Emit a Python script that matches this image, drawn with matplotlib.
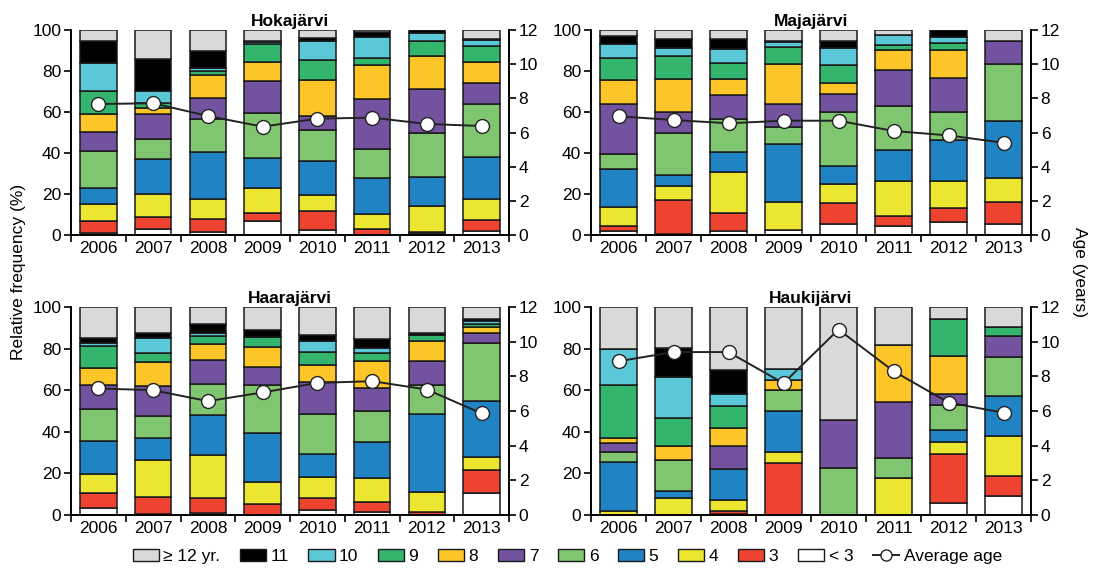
import numpy as np
import matplotlib
matplotlib.use("Agg")
import matplotlib.pyplot as plt
from matplotlib.patches import Patch
from matplotlib.lines import Line2D

plt.rcParams['font.family'] = ['Liberation Sans', 'DejaVu Sans']

years = ["2006", "2007", "2008", "2009", "2010", "2011", "2012", "2013"]
age_classes = ["< 3", "3", "4", "5", "6", "7", "8", "9", "10", "11", "\u2265 12 yr."]
class_colors = ["#ffffff", "#ee4330", "#ece630", "#1f83c4", "#80c671", "#7352a0",
                "#fdc628", "#33b56e", "#5bc8d8", "#000000", "#d8d9d9"]

# shares (%) per year, classes in order <3, 3, 4, ..., 11, >=12
hoka_shares = [
    [0.8, 6.0, 8.5, 7.5, 18.0, 9.6, 8.5, 11.3, 13.5, 11.1, 5.2],
    [2.9, 5.7, 11.4, 17.2, 9.5, 12.3, 2.8, 2.4, 6.0, 15.5, 14.3],
    [1.3, 6.5, 9.6, 23.1, 16.2, 10.0, 11.2, 2.3, 1.4, 8.3, 10.1],
    [6.8, 3.8, 12.2, 14.9, 21.6, 15.8, 9.3, 8.8, 0.8, 0.6, 5.4],
    [2.4, 9.5, 7.6, 16.6, 15.1, 6.8, 17.6, 9.8, 9.2, 1.3, 4.1],
    [0.0, 3.1, 7.3, 17.4, 14.3, 24.1, 16.6, 3.4, 10.5, 2.2, 1.1],
    [1.0, 0.5, 12.6, 14.2, 21.3, 21.8, 15.9, 7.2, 3.9, 1.6, 0.0],
    [2.1, 5.1, 10.4, 20.6, 25.9, 10.2, 10.3, 7.8, 2.7, 0.4, 4.5],
]
hoka_age = [7.67, 7.71, 6.97, 6.34, 6.81, 6.87, 6.50, 6.38]

maja_shares = [
    [2.0, 2.6, 9.1, 18.3, 7.3, 24.8, 11.5, 10.9, 6.7, 3.9, 2.9],
    [0.7, 16.4, 6.8, 5.4, 20.3, 10.2, 16.5, 11.2, 3.6, 4.7, 4.2],
    [2.0, 8.6, 20.3, 9.6, 16.1, 11.5, 7.8, 8.2, 6.5, 5.2, 4.2],
    [2.4, 0.0, 13.9, 28.1, 8.4, 11.1, 19.5, 8.1, 2.8, 0.5, 5.2],
    [5.4, 10.0, 9.5, 8.6, 26.3, 8.8, 5.7, 8.6, 8.5, 3.4, 5.2],
    [4.6, 4.8, 17.1, 14.8, 21.8, 17.6, 9.5, 2.5, 5.0, 0.0, 2.3],
    [6.5, 6.5, 13.3, 20.0, 13.5, 16.9, 13.5, 3.3, 3.2, 3.3, 0.0],
    [5.4, 10.9, 11.3, 28.0, 27.8, 11.2, 0.0, 0.0, 0.0, 0.0, 5.4],
]
maja_age = [6.95, 6.73, 6.54, 6.69, 6.69, 6.09, 5.83, 5.40]

haara_shares = [
    [3.2, 7.2, 9.3, 16.0, 15.5, 11.2, 8.3, 10.4, 1.6, 2.4, 14.9],
    [0.5, 8.3, 17.6, 10.7, 10.4, 14.6, 11.5, 4.3, 7.2, 2.6, 12.3],
    [1.1, 6.9, 20.8, 19.5, 14.9, 11.2, 7.7, 3.8, 1.6, 4.5, 8.0],
    [0.0, 5.1, 10.6, 23.5, 23.5, 8.5, 9.6, 4.8, 0.0, 3.2, 11.2],
    [2.4, 5.6, 10.1, 11.2, 19.2, 15.5, 8.0, 6.2, 5.5, 2.7, 13.6],
    [1.3, 5.1, 11.2, 17.6, 14.7, 11.2, 12.8, 4.0, 2.4, 4.5, 15.2],
    [0.0, 1.6, 9.6, 37.3, 14.2, 11.5, 9.3, 2.9, 0.0, 1.3, 12.3],
    [10.7, 10.9, 6.2, 26.9, 28.0, 4.8, 2.9, 1.4, 1.6, 0.7, 5.9],
]
haara_age = [7.30, 7.20, 6.57, 7.07, 7.62, 7.72, 7.24, 5.86]

hauki_shares = [
    [0.0, 0.0, 2.1, 23.2, 5.1, 4.3, 2.4, 25.3, 17.6, 0.0, 20.0],
    [0.0, 0.0, 8.0, 3.5, 14.9, 0.0, 6.7, 13.3, 20.0, 13.9, 19.7],
    [0.5, 1.4, 5.3, 14.9, 0.0, 11.0, 8.5, 10.9, 5.6, 11.5, 30.4],
    [0.0, 24.8, 5.3, 19.8, 10.1, 0.0, 4.8, 0.0, 5.3, 0.0, 29.9],
    [0.0, 0.0, 0.0, 0.0, 22.7, 23.2, 0.0, 0.0, 0.0, 0.0, 54.1],
    [0.0, 0.0, 17.9, 0.0, 9.3, 27.2, 27.2, 0.0, 0.0, 0.0, 18.4],
    [5.6, 23.7, 5.9, 5.8, 11.8, 5.6, 17.9, 17.8, 0.0, 0.0, 5.9],
    [9.3, 9.5, 19.2, 19.3, 18.9, 9.7, 0.0, 4.6, 0.0, 0.0, 9.5],
]
hauki_age = [8.87, 9.40, 9.40, 7.60, 10.70, 8.30, 6.49, 5.90]

lakes = ["Hokajärvi", "Majajärvi", "Haarajärvi", "Haukijärvi"]
all_shares = [hoka_shares, maja_shares, haara_shares, hauki_shares]
all_ages = [hoka_age, maja_age, haara_age, hauki_age]

edge = "#1a1a1a"
W, H = 1095, 574
fig = plt.figure(figsize=(W / 100, H / 100), dpi=100)

# axes boxes in pixels: left, top, width, height
boxes = [(71, 30, 438, 205), (591, 30, 440, 205),
         (71, 307, 438, 208), (591, 307, 440, 208)]

x = np.arange(len(years))
for k in range(4):
    l, t, w, h = boxes[k]
    ax = fig.add_axes([l / W, 1 - (t + h) / H, w / W, h / H])
    shares = np.array(all_shares[k])
    bottom = np.zeros(len(years))
    for c in range(len(age_classes)):
        ax.bar(x, shares[:, c], bottom=bottom, width=0.67, color=class_colors[c],
               edgecolor=edge, linewidth=1.1, zorder=2)
        bottom += shares[:, c]
    ax.set_xlim(-0.5, len(years) - 0.5)
    ax.set_ylim(0, 100)
    ax.set_yticks([0, 20, 40, 60, 80, 100])
    ax.set_xticks(x)
    ax.set_xticklabels(years)
    ax.set_xticks(np.arange(-0.5, len(years)), minor=True)
    ax.tick_params(axis="x", which="major", length=0, labelsize=12.5, pad=4)
    ax.tick_params(axis="x", which="minor", length=5, width=1.2)
    ax.tick_params(axis="y", length=5, width=1.2, labelsize=12.5, pad=2)
    for s in ["left", "bottom", "right"]:
        ax.spines[s].set_linewidth(1.2)
    ax.spines["top"].set_visible(False)
    ax.set_title(lakes[k], fontsize=12.5, fontweight="bold", pad=3)

    ax2 = ax.twinx()
    ax2.plot(x, all_ages[k], color="#222222", linewidth=1.4, marker="o",
             markersize=10, markerfacecolor="white", markeredgecolor="#222222",
             markeredgewidth=1.0, zorder=3)
    ax2.set_ylim(0, 12)
    ax2.set_yticks([0, 2, 4, 6, 8, 10, 12])
    ax2.tick_params(axis="y", length=5, width=1.2, labelsize=12.5, pad=2)
    for s in ["left", "bottom", "right"]:
        ax2.spines[s].set_linewidth(1.2)
    ax2.spines["top"].set_visible(False)

fig.text(0.017, 0.526, "Relative frequency (%)", rotation=90, fontsize=12.5,
         ha="center", va="center")
fig.text(0.986, 0.526, "Age (years)", rotation=270, fontsize=12.5,
         ha="center", va="center")

# legend order as in the original: >=12 first, <3 last
handles = []
labels = []
for c in range(len(age_classes) - 1, -1, -1):
    handles.append(Patch(facecolor=class_colors[c], edgecolor=edge, linewidth=1.0))
    labels.append(age_classes[c])
handles.append(Line2D([0], [0], color="#222222", linewidth=1.4, marker="o",
                      markersize=8, markerfacecolor="white", markeredgecolor="#222222"))
labels.append("Average age")
fig.legend(handles, labels, loc="lower center", bbox_to_anchor=(0.518, -0.01),
           ncol=len(labels), frameon=False, fontsize=12.5, handlelength=1.5,
           handleheight=0.65, handletextpad=0.25, columnspacing=1.15)

fig.savefig("out.png", dpi=100)
